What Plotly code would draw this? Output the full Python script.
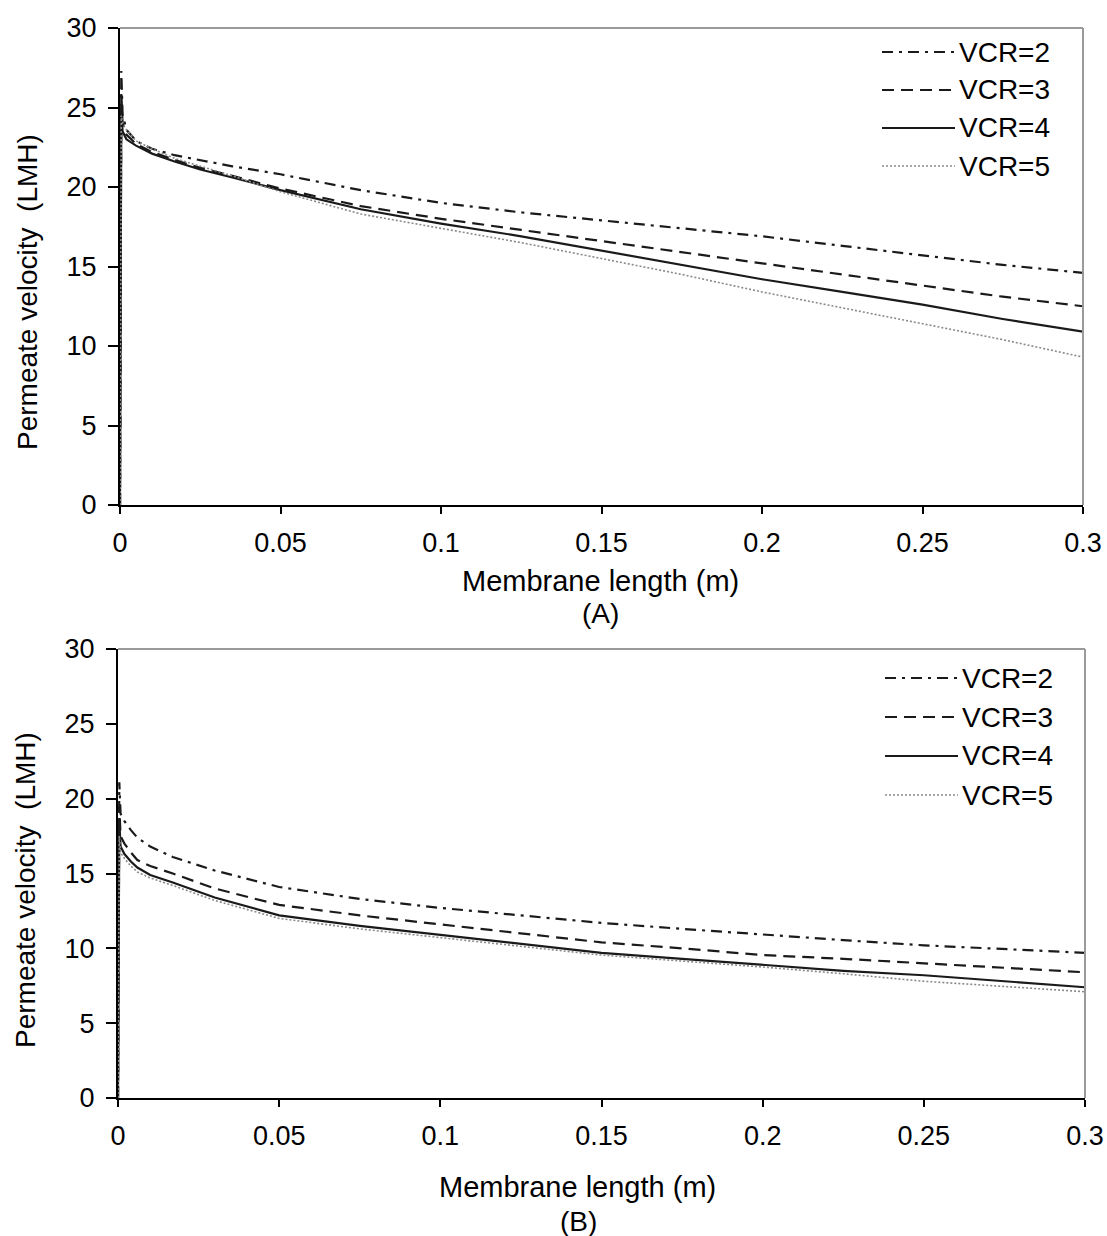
import plotly.graph_objects as go

W, H = 1107, 1236

# ---------------- data ----------------
x_a = [0, 0.0004, 0.0008, 0.002, 0.005, 0.01, 0.017, 0.025, 0.035, 0.05, 0.075,
       0.1, 0.125, 0.15, 0.175, 0.2, 0.225, 0.25, 0.275, 0.3]
a_vcr2 = [0, 27.3, 24.6, 23.6, 22.9, 22.4, 22.0, 21.7, 21.3, 20.8, 19.8,
          19.0, 18.4, 17.9, 17.4, 16.9, 16.3, 15.7, 15.1, 14.6]
a_vcr3 = [0, 26.0, 24.0, 23.3, 22.7, 22.2, 21.7, 21.2, 20.7, 19.9, 18.8,
          18.0, 17.3, 16.6, 15.9, 15.2, 14.5, 13.8, 13.1, 12.5]
a_vcr4 = [0, 25.0, 23.5, 23.0, 22.6, 22.1, 21.6, 21.1, 20.6, 19.8, 18.6,
          17.7, 16.9, 16.0, 15.1, 14.2, 13.4, 12.6, 11.7, 10.9]
a_vcr5 = [0, 24.5, 24.0, 23.6, 22.9, 22.4, 21.8, 21.3, 20.7, 19.7, 18.3,
          17.4, 16.5, 15.5, 14.5, 13.4, 12.4, 11.4, 10.4, 9.3]

x_b = [0, 0.0004, 0.0008, 0.002, 0.004, 0.006, 0.01, 0.017, 0.03, 0.05, 0.075,
       0.1, 0.125, 0.15, 0.175, 0.2, 0.225, 0.25, 0.275, 0.3]
b_vcr2 = [0, 21.1, 19.0, 18.5, 17.9, 17.4, 16.8, 16.1, 15.2, 14.1, 13.3,
          12.7, 12.2, 11.7, 11.3, 10.9, 10.55, 10.2, 9.95, 9.7]
b_vcr3 = [0, 19.5, 17.5, 17.0, 16.4, 15.9, 15.5, 15.0, 14.0, 12.9, 12.2,
          11.6, 11.0, 10.4, 10.0, 9.55, 9.3, 9.0, 8.7, 8.4]
b_vcr4 = [0, 18.5, 16.8, 16.3, 15.8, 15.4, 14.9, 14.4, 13.4, 12.2, 11.5,
          10.9, 10.3, 9.7, 9.3, 8.9, 8.5, 8.2, 7.8, 7.4]
b_vcr5 = [0, 17.5, 16.4, 16.0, 15.5, 15.1, 14.7, 14.2, 13.2, 12.0, 11.3,
          10.7, 10.1, 9.55, 9.15, 8.75, 8.3, 7.8, 7.45, 7.1]

series_names = ["VCR=2", "VCR=3", "VCR=4", "VCR=5"]
x_tickvals = [0, 0.05, 0.1, 0.15, 0.2, 0.25, 0.3]
x_ticktext = ["0", "0.05", "0.1", "0.15", "0.2", "0.25", "0.3"]
y_tickvals = [0, 5, 10, 15, 20, 25, 30]

styles = [
    dict(color="#1a1a1a", width=2.2, dash="11px,6px,3px,6px"),
    dict(color="#1a1a1a", width=2.2, dash="12px,7px"),
    dict(color="#1a1a1a", width=2.2, dash="solid"),
    dict(color="#8a8a8a", width=1.6, dash="2px,2px"),
]

FONT = "Liberation Sans, Arial, sans-serif"
fig = go.Figure()

for vals, name, st in zip([a_vcr2, a_vcr3, a_vcr4, a_vcr5], series_names, styles):
    fig.add_trace(go.Scatter(x=x_a, y=vals, mode="lines", name=name, line=st,
                             xaxis="x", yaxis="y", showlegend=False))
for vals, name, st in zip([b_vcr2, b_vcr3, b_vcr4, b_vcr5], series_names, styles):
    fig.add_trace(go.Scatter(x=x_b, y=vals, mode="lines", name=name, line=st,
                             xaxis="x2", yaxis="y2", showlegend=False))

def px_x(p):
    return p / W

def px_y(p):
    return 1 - p / H

# panel geometry (pixels)
A = dict(l=120, r=1083, t=28, b=505)
B = dict(l=118, r=1085, t=649, b=1098)

def xax(dom, anchor):
    return dict(domain=dom, range=[0, 0.3], anchor=anchor, tickvals=x_tickvals,
                ticktext=x_ticktext, ticks="outside", ticklen=7, tickwidth=2,
                tickcolor="black", showline=True, linecolor="black", linewidth=2,
                showgrid=False, zeroline=False, ticklabelstandoff=6,
                tickfont=dict(family=FONT, size=27, color="black"), automargin=False)

def yax(dom, anchor):
    return dict(domain=dom, range=[0, 30], anchor=anchor, tickvals=y_tickvals,
                ticks="outside", ticklen=10, tickwidth=2, tickcolor="black",
                showline=True, linecolor="black", linewidth=2, showgrid=False,
                zeroline=False, ticklabelstandoff=6,
                tickfont=dict(family=FONT, size=27, color="black"), automargin=False)

fig.update_layout(
    width=W, height=H, margin=dict(l=0, r=0, t=0, b=0),
    paper_bgcolor="white", plot_bgcolor="white", showlegend=False,
    xaxis=xax([px_x(A["l"]), px_x(A["r"])], "y"),
    yaxis=yax([px_y(A["b"]), px_y(A["t"])], "x"),
    xaxis2=xax([px_x(B["l"]), px_x(B["r"])], "y2"),
    yaxis2=yax([px_y(B["b"]), px_y(B["t"])], "x2"),
)

shapes = []
annots = []
for P in (A, B):
    shapes.append(dict(type="line", xref="paper", yref="paper",
                       x0=px_x(P["l"]), x1=px_x(P["r"]), y0=px_y(P["t"]), y1=px_y(P["t"]),
                       line=dict(color="#9a9a9a", width=2)))
    shapes.append(dict(type="line", xref="paper", yref="paper",
                       x0=px_x(P["r"]), x1=px_x(P["r"]), y0=px_y(P["t"]), y1=px_y(P["b"]),
                       line=dict(color="#9a9a9a", width=2)))

legend_pos = [
    dict(x0=882, x1=955, tx=957, ys=[52, 90, 128, 166]),
    dict(x0=885, x1=958, tx=960, ys=[678, 717, 756, 795]),
]
for lp in legend_pos:
    for name, st, yy in zip(series_names, styles, lp["ys"]):
        shapes.append(dict(type="line", xref="paper", yref="paper",
                           x0=px_x(lp["x0"]), x1=px_x(lp["x1"]), y0=px_y(yy), y1=px_y(yy),
                           line=dict(color=st["color"], width=st["width"], dash=st["dash"])))
        annots.append(dict(text=name, xref="paper", yref="paper", x=px_x(lp["tx"]), y=px_y(yy),
                           xanchor="left", yanchor="middle", showarrow=False,
                           font=dict(family=FONT, size=28, color="black")))

def txt(t, x, y, size=28, angle=0):
    annots.append(dict(text=t, xref="paper", yref="paper", x=px_x(x), y=px_y(y),
                       xanchor="center", yanchor="middle", showarrow=False, textangle=angle,
                       font=dict(family=FONT, size=size, color="black")))

txt("Membrane length (m)", 600, 581, size=29)
txt("(A)", 600, 613)
txt("Permeate velocity  (LMH)", 28, 292, angle=-90)
txt("Membrane length (m)", 577, 1187, size=29)
txt("(B)", 578, 1221)
txt("Permeate velocity  (LMH)", 25, 890, angle=-90)

fig.update_layout(shapes=shapes, annotations=annots)
fig.write_html("out.html", config={"displayModeBar": False},
               post_script="document.body.style.margin='0px';document.body.style.overflow='hidden';")
